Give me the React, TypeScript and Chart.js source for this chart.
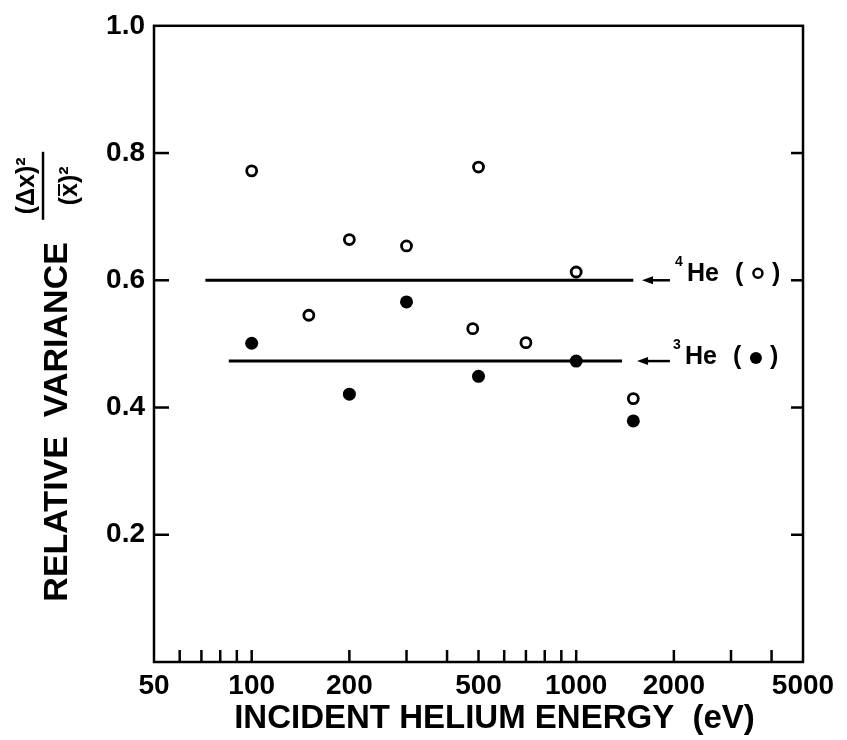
import React, { useEffect, useRef } from 'react';
import { Chart, registerables } from 'chart.js';

Chart.register(...registerables);

// ---- data ----
const energy4He = [100, 150, 200, 300, 480, 500, 700, 1000, 1500];
const variance4He = [0.772, 0.545, 0.664, 0.654, 0.524, 0.778, 0.502, 0.613, 0.414];
const energy3He = [100, 200, 300, 500, 1000, 1500];
const variance3He = [0.501, 0.421, 0.566, 0.449, 0.473, 0.379];
const mean4He = 0.6;
const mean4HeSpan = [72, 1500];
const mean3He = 0.473;
const mean3HeSpan = [85, 1385];
const xLabelTicks = [50, 100, 200, 500, 1000, 2000, 5000];
const xMarkTicks = [60, 70, 80, 90, 100, 200, 300, 400, 500, 600, 700, 800, 900, 1000, 2000, 3000, 4000];
const yLabelTicks = [0.2, 0.4, 0.6, 0.8, 1.0];
const xTitle = 'INCIDENT HELIUM ENERGY  (eV)';
const yTitle = 'RELATIVE  VARIANCE';
const arrow4He = [1595, 1945];
const arrow3He = [1540, 1945];

const FONT = 'Liberation Sans';

function drawArrow(ctx: CanvasRenderingContext2D, x1: number, x2: number, y: number) {
  ctx.beginPath();
  ctx.moveTo(x2, y);
  ctx.lineTo(x1 + 6, y);
  ctx.lineWidth = 2.5;
  ctx.stroke();
  ctx.beginPath();
  ctx.moveTo(x1, y);
  ctx.lineTo(x1 + 11, y - 4);
  ctx.lineTo(x1 + 11, y + 4);
  ctx.closePath();
  ctx.fill();
}

function drawLabel(ctx: CanvasRenderingContext2D, x0: number, y: number, sup: string, filled: boolean) {
  ctx.textAlign = 'left';
  ctx.textBaseline = 'middle';
  ctx.font = `bold 14px ${FONT}`;
  ctx.fillText(sup, x0, y - 12);
  ctx.font = `bold 25px ${FONT}`;
  ctx.fillText('He', x0 + 12, y);
  ctx.fillText('(', x0 + 60, y);
  ctx.fillText(')', x0 + 97, y);
  ctx.beginPath();
  if (filled) {
    ctx.arc(x0 + 83, y + 1, 6, 0, Math.PI * 2);
    ctx.fill();
  } else {
    ctx.arc(x0 + 83, y - 1, 4.5, 0, Math.PI * 2);
    ctx.lineWidth = 2.5;
    ctx.stroke();
  }
}

const framePlugin = {
  id: 'frame',
  afterDraw(chart: any) {
    const { ctx, chartArea: a, scales } = chart;
    const x = scales.x;
    const y = scales.y;
    ctx.save();
    ctx.strokeStyle = '#000';
    ctx.fillStyle = '#000';
    ctx.lineWidth = 2.5;
    ctx.strokeRect(a.left, a.top, a.right - a.left, a.bottom - a.top);
    const seg = (x1: number, y1: number, x2: number, y2: number) => {
      ctx.beginPath();
      ctx.moveTo(x1, y1);
      ctx.lineTo(x2, y2);
      ctx.stroke();
    };
    yLabelTicks.forEach((v) => {
      if (v >= 1) return;
      const py = y.getPixelForValue(v);
      seg(a.left, py, a.left + 15, py);
      seg(a.right, py, a.right - 12, py);
    });
    xMarkTicks.forEach((v) => {
      const px = x.getPixelForValue(v);
      seg(px, a.bottom, px, a.bottom - 12);
    });

    // annotations
    const y4 = y.getPixelForValue(mean4He);
    const y3 = y.getPixelForValue(mean3He);
    const h4 = x.getPixelForValue(arrow4He[0]);
    const t4 = x.getPixelForValue(arrow4He[1]);
    const h3 = x.getPixelForValue(arrow3He[0]);
    const t3 = x.getPixelForValue(arrow3He[1]);
    drawArrow(ctx, h4, t4, y4);
    drawArrow(ctx, h3, t3, y3);
    drawLabel(ctx, t4 + 5, y4 - 6, '4', false);
    drawLabel(ctx, t3 + 3, y3 - 4, '3', true);

    // x title
    ctx.font = `bold 33px ${FONT}`;
    ctx.textAlign = 'center';
    ctx.textBaseline = 'middle';
    ctx.fillText(xTitle, (a.left + a.right) / 2 + 16, a.bottom + 57);

    // y title
    ctx.save();
    ctx.translate(a.left - 96, (a.top + a.bottom) / 2 + 78);
    ctx.rotate(-Math.PI / 2);
    ctx.font = `bold 34px ${FONT}`;
    ctx.fillText(yTitle, 0, 0);
    ctx.restore();

    // fraction
    ctx.save();
    ctx.translate(a.left - 111, a.top + 160);
    ctx.rotate(-Math.PI / 2);
    ctx.font = `bold 25px ${FONT}`;
    ctx.textAlign = 'center';
    ctx.fillText('(\u0394x)\u00b2', 0, -16);
    ctx.lineWidth = 2.5;
    seg(-34, 0, 34, 0);
    const den = '(x)\u00b2';
    const w = ctx.measureText(den).width;
    ctx.textAlign = 'left';
    ctx.fillText(den, -w / 2, 27);
    const wp = ctx.measureText('(').width;
    const wx = ctx.measureText('x').width;
    ctx.lineWidth = 2;
    seg(-w / 2 + wp + 1, 16, -w / 2 + wp + wx - 1, 16);
    ctx.restore();

    ctx.restore();
  },
};

export default function App() {
  const ref = useRef<HTMLCanvasElement>(null);
  useEffect(() => {
    if (!ref.current) return;
    const tickFont = { family: FONT, size: 28, weight: 'bold' as const };
    const chart = new Chart(ref.current, {
      type: 'scatter',
      data: {
        datasets: [
          {
            label: '4He',
            data: energy4He.map((e, i) => ({ x: e, y: variance4He[i] })),
            pointRadius: 5,
            pointBackgroundColor: '#fff',
            pointBorderColor: '#000',
            pointBorderWidth: 2.8,
          },
          {
            label: '3He',
            data: energy3He.map((e, i) => ({ x: e, y: variance3He[i] })),
            pointRadius: 6.5,
            pointBackgroundColor: '#000',
            pointBorderColor: '#000',
            pointBorderWidth: 0,
          },
          {
            label: '4He mean',
            type: 'line',
            data: mean4HeSpan.map((e) => ({ x: e, y: mean4He })),
            borderColor: '#000',
            borderWidth: 3,
            pointRadius: 0,
            showLine: true,
          } as any,
          {
            label: '3He mean',
            type: 'line',
            data: mean3HeSpan.map((e) => ({ x: e, y: mean3He })),
            borderColor: '#000',
            borderWidth: 3,
            pointRadius: 0,
            showLine: true,
          } as any,
        ],
      },
      options: {
        responsive: false,
        animation: false,
        layout: { padding: { left: 0, top: 23, right: 44, bottom: 0 } },
        plugins: { legend: { display: false }, tooltip: { enabled: false } },
        scales: {
          x: {
            type: 'logarithmic',
            min: 50,
            max: 5000,
            position: 'bottom',
            afterBuildTicks: (s: any) => {
              s.ticks = xLabelTicks.map((v) => ({ value: v }));
            },
            afterFit: (s: any) => {
              s.height = 78;
            },
            grid: { display: false, drawTicks: false },
            border: { display: false },
            ticks: {
              autoSkip: false,
              maxRotation: 0,
              padding: 7,
              color: '#000',
              font: tickFont,
              callback: (v: any) => String(v),
            },
          },
          y: {
            type: 'linear',
            min: 0,
            max: 1,
            afterBuildTicks: (s: any) => {
              s.ticks = yLabelTicks.map((v) => ({ value: v }));
            },
            afterFit: (s: any) => {
              s.width = 154;
            },
            grid: { display: false, drawTicks: false },
            border: { display: false },
            ticks: {
              padding: 9,
              color: '#000',
              font: tickFont,
              callback: (v: any) => Number(v).toFixed(1),
            },
          },
        },
      } as any,
      plugins: [framePlugin],
    });
    return () => chart.destroy();
  }, []);
  return (
    <div style={{ position: 'absolute', left: 0, top: 0, width: 847, height: 740, background: '#fff' }}>
      <canvas ref={ref} width={847} height={740} style={{ display: 'block' }} />
    </div>
  );
}
